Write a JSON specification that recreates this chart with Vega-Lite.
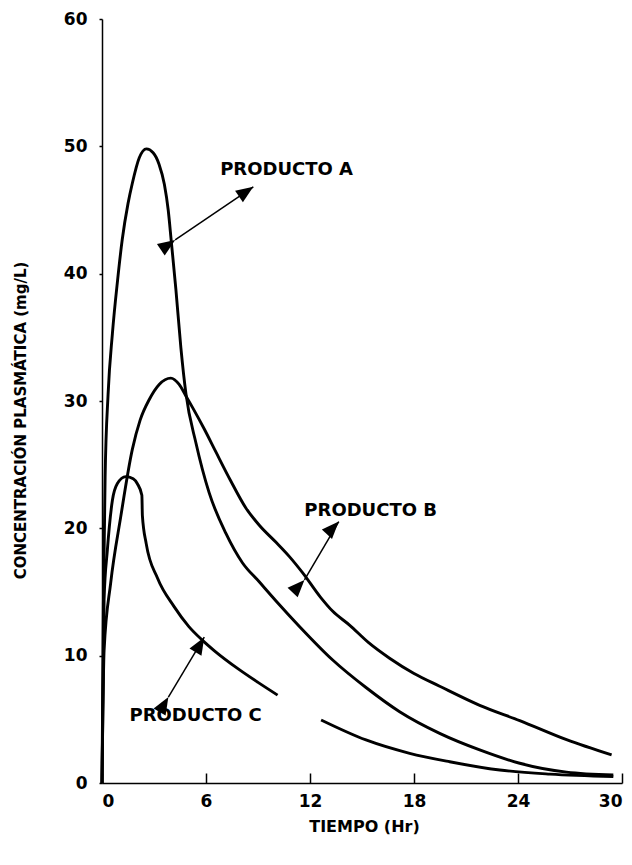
{
  "$schema": "https://vega.github.io/schema/vega-lite/v6.json",
  "width": 520,
  "height": 764,
  "autosize": {"type": "none"},
  "padding": {"left": 102, "top": 19, "right": 10, "bottom": 82},
  "background": "white",
  "config": {
    "view": {"stroke": null},
    "axis": {
      "grid": false,
      "domainColor": "black",
      "domainWidth": 1.5,
      "tickColor": "black",
      "tickWidth": 1.5,
      "labelColor": "black",
      "titleColor": "black",
      "labelFont": "DejaVu Sans",
      "labelFontWeight": "bold",
      "labelFontSize": 17,
      "titleFont": "DejaVu Sans",
      "titleFontWeight": "bold"
    }
  },
  "datasets": {
    "curvas": [
      {"producto": "A", "tramo": 1, "t": 0, "c": 0},
      {"producto": "A", "tramo": 1, "t": 0.08, "c": 14},
      {"producto": "A", "tramo": 1, "t": 0.18, "c": 24},
      {"producto": "A", "tramo": 1, "t": 0.35, "c": 30.5},
      {"producto": "A", "tramo": 1, "t": 0.6, "c": 35.3},
      {"producto": "A", "tramo": 1, "t": 0.9, "c": 39.5},
      {"producto": "A", "tramo": 1, "t": 1.17, "c": 42.7},
      {"producto": "A", "tramo": 1, "t": 1.5, "c": 45.5},
      {"producto": "A", "tramo": 1, "t": 1.75, "c": 47.1},
      {"producto": "A", "tramo": 1, "t": 2.15, "c": 49.1},
      {"producto": "A", "tramo": 1, "t": 2.56, "c": 49.8},
      {"producto": "A", "tramo": 1, "t": 2.95, "c": 49.5},
      {"producto": "A", "tramo": 1, "t": 3.29, "c": 48.6},
      {"producto": "A", "tramo": 1, "t": 3.6, "c": 47.0},
      {"producto": "A", "tramo": 1, "t": 3.82, "c": 45.0},
      {"producto": "A", "tramo": 1, "t": 4.0, "c": 42.5},
      {"producto": "A", "tramo": 1, "t": 4.26, "c": 38.8},
      {"producto": "A", "tramo": 1, "t": 4.55, "c": 34.2},
      {"producto": "A", "tramo": 1, "t": 4.84, "c": 30.6},
      {"producto": "A", "tramo": 1, "t": 5.42, "c": 26.7},
      {"producto": "A", "tramo": 1, "t": 6.18, "c": 22.8},
      {"producto": "A", "tramo": 1, "t": 7.15, "c": 19.6},
      {"producto": "A", "tramo": 1, "t": 8.1, "c": 17.3},
      {"producto": "A", "tramo": 1, "t": 9.07, "c": 15.8},
      {"producto": "A", "tramo": 1, "t": 10.04, "c": 14.3},
      {"producto": "A", "tramo": 1, "t": 11.39, "c": 12.3},
      {"producto": "A", "tramo": 1, "t": 13.31, "c": 9.66},
      {"producto": "A", "tramo": 1, "t": 15.23, "c": 7.5},
      {"producto": "A", "tramo": 1, "t": 17.17, "c": 5.6},
      {"producto": "A", "tramo": 1, "t": 19.48, "c": 3.9},
      {"producto": "A", "tramo": 1, "t": 21.79, "c": 2.6},
      {"producto": "A", "tramo": 1, "t": 24.1, "c": 1.55},
      {"producto": "A", "tramo": 1, "t": 26.8, "c": 0.85},
      {"producto": "A", "tramo": 1, "t": 29.5, "c": 0.63},

      {"producto": "B", "tramo": 1, "t": 0, "c": 0},
      {"producto": "B", "tramo": 1, "t": 0.12, "c": 10.4},
      {"producto": "B", "tramo": 1, "t": 0.5, "c": 15.7},
      {"producto": "B", "tramo": 1, "t": 1.08, "c": 20.9},
      {"producto": "B", "tramo": 1, "t": 1.75, "c": 26.2},
      {"producto": "B", "tramo": 1, "t": 2.2, "c": 28.5},
      {"producto": "B", "tramo": 1, "t": 2.72, "c": 30.1},
      {"producto": "B", "tramo": 1, "t": 3.3, "c": 31.3},
      {"producto": "B", "tramo": 1, "t": 3.97, "c": 31.8},
      {"producto": "B", "tramo": 1, "t": 4.45, "c": 31.3},
      {"producto": "B", "tramo": 1, "t": 4.84, "c": 30.4},
      {"producto": "B", "tramo": 1, "t": 5.22, "c": 29.5},
      {"producto": "B", "tramo": 1, "t": 5.9, "c": 27.8},
      {"producto": "B", "tramo": 1, "t": 6.57, "c": 26.0},
      {"producto": "B", "tramo": 1, "t": 7.4, "c": 23.8},
      {"producto": "B", "tramo": 1, "t": 8.3, "c": 21.6},
      {"producto": "B", "tramo": 1, "t": 9.1, "c": 20.2},
      {"producto": "B", "tramo": 1, "t": 10.04, "c": 18.9},
      {"producto": "B", "tramo": 1, "t": 10.8, "c": 17.8},
      {"producto": "B", "tramo": 1, "t": 11.58, "c": 16.5},
      {"producto": "B", "tramo": 1, "t": 12.6, "c": 14.6},
      {"producto": "B", "tramo": 1, "t": 13.3, "c": 13.5},
      {"producto": "B", "tramo": 1, "t": 14.28, "c": 12.4},
      {"producto": "B", "tramo": 1, "t": 15.4, "c": 11.0},
      {"producto": "B", "tramo": 1, "t": 16.59, "c": 9.8},
      {"producto": "B", "tramo": 1, "t": 18.0, "c": 8.6},
      {"producto": "B", "tramo": 1, "t": 19.48, "c": 7.6},
      {"producto": "B", "tramo": 1, "t": 21.79, "c": 6.1},
      {"producto": "B", "tramo": 1, "t": 24.1, "c": 4.9},
      {"producto": "B", "tramo": 1, "t": 26.8, "c": 3.4},
      {"producto": "B", "tramo": 1, "t": 29.4, "c": 2.2},

      {"producto": "C", "tramo": 1, "t": 0, "c": 0},
      {"producto": "C", "tramo": 1, "t": 0.12, "c": 14.4},
      {"producto": "C", "tramo": 1, "t": 0.31, "c": 18.3},
      {"producto": "C", "tramo": 1, "t": 0.6, "c": 22.2},
      {"producto": "C", "tramo": 1, "t": 0.88, "c": 23.5},
      {"producto": "C", "tramo": 1, "t": 1.37, "c": 24.06},
      {"producto": "C", "tramo": 1, "t": 1.8, "c": 23.9},
      {"producto": "C", "tramo": 1, "t": 2.04, "c": 23.5},
      {"producto": "C", "tramo": 1, "t": 2.3, "c": 22.6},
      {"producto": "C", "tramo": 1, "t": 2.33, "c": 21.0},
      {"producto": "C", "tramo": 1, "t": 2.55, "c": 18.8},
      {"producto": "C", "tramo": 1, "t": 3.2, "c": 16.1},
      {"producto": "C", "tramo": 1, "t": 4.16, "c": 13.85},
      {"producto": "C", "tramo": 1, "t": 5.0, "c": 12.3},
      {"producto": "C", "tramo": 1, "t": 5.8, "c": 11.2},
      {"producto": "C", "tramo": 1, "t": 6.47, "c": 10.4},
      {"producto": "C", "tramo": 1, "t": 7.92, "c": 8.9},
      {"producto": "C", "tramo": 1, "t": 9.0, "c": 7.9},
      {"producto": "C", "tramo": 1, "t": 10.13, "c": 6.9},
      {"producto": "C", "tramo": 2, "t": 12.64, "c": 4.95},
      {"producto": "C", "tramo": 2, "t": 15.23, "c": 3.38},
      {"producto": "C", "tramo": 2, "t": 17.75, "c": 2.33},
      {"producto": "C", "tramo": 2, "t": 20.06, "c": 1.67},
      {"producto": "C", "tramo": 2, "t": 22.95, "c": 1.02},
      {"producto": "C", "tramo": 2, "t": 25.84, "c": 0.7},
      {"producto": "C", "tramo": 2, "t": 29.5, "c": 0.5}
    ],
    "flechas": [
      {"producto": "A", "t1": 4.22, "c1": 42.65, "t2": 8.73, "c2": 46.82},
      {"producto": "B", "t1": 11.68, "c1": 15.95, "t2": 13.66, "c2": 20.53},
      {"producto": "C", "t1": 3.83, "c1": 6.75, "t2": 5.9, "c2": 11.45}
    ],
    "etiquetas": [
      {"texto": "PRODUCTO A", "t": 10.65, "c": 48.15},
      {"texto": "PRODUCTO B", "t": 15.5, "c": 21.37},
      {"texto": "PRODUCTO C", "t": 5.4, "c": 5.3}
    ]
  },
  "layer": [
    {
      "data": {"name": "curvas"},
      "mark": {"type": "line", "interpolate": "monotone", "color": "black", "strokeWidth": 2.9},
      "encoding": {
        "x": {
          "field": "t", "type": "quantitative",
          "scale": {"domain": [0, 30], "nice": false},
          "axis": {
            "values": [0, 6, 12, 18, 24, 30],
            "tickSize": -10,
            "labelPadding": 20,
            "title": "TIEMPO (Hr)",
            "titleFontSize": 16,
            "titleX": 262,
            "titleY": 43,
            "titleBaseline": "middle"
          }
        },
        "y": {
          "field": "c", "type": "quantitative",
          "scale": {"domain": [0, 60], "nice": false},
          "axis": {
            "values": [0, 10, 20, 30, 40, 50, 60],
            "tickSize": 3,
            "labelPadding": 12,
            "title": "CONCENTRACIÓN PLASMÁTICA (mg/L)",
            "titleFontSize": 15,
            "titleX": -82,
            "titleY": 401,
            "titleAlign": "center",
            "titleBaseline": "middle"
          }
        },
        "detail": [{"field": "producto"}, {"field": "tramo"}]
      }
    },
    {
      "data": {"name": "flechas"},
      "mark": {"type": "rule", "color": "black", "strokeWidth": 1.5},
      "encoding": {
        "x": {"field": "t1", "type": "quantitative"},
        "y": {"field": "c1", "type": "quantitative"},
        "x2": {"field": "t2"},
        "y2": {"field": "c2"}
      }
    },
    {
      "data": {"name": "flechas"},
      "mark": {"type": "point", "shape": "M0,0L0.4,1L-0.4,1Z", "filled": true, "color": "black", "size": 1200, "opacity": 1},
      "encoding": {
        "x": {"field": "t2", "type": "quantitative"},
        "y": {"field": "c2", "type": "quantitative"},
        "angle": {"field": "producto", "type": "nominal", "scale": {"domain": ["A", "B", "C"], "range": [55.8, 30.5, 30.3]}, "legend": null}
      }
    },
    {
      "data": {"name": "flechas"},
      "mark": {"type": "point", "shape": "M0,0L0.4,1L-0.4,1Z", "filled": true, "color": "black", "size": 1200, "opacity": 1},
      "encoding": {
        "x": {"field": "t1", "type": "quantitative"},
        "y": {"field": "c1", "type": "quantitative"},
        "angle": {"field": "producto", "type": "nominal", "scale": {"domain": ["A", "B", "C"], "range": [235.8, 210.5, 210.3]}, "legend": null}
      }
    },
    {
      "data": {"name": "etiquetas"},
      "mark": {"type": "text", "font": "DejaVu Sans", "fontWeight": "bold", "fontSize": 18, "color": "black", "align": "center", "baseline": "middle"},
      "encoding": {
        "x": {"field": "t", "type": "quantitative"},
        "y": {"field": "c", "type": "quantitative"},
        "text": {"field": "texto"}
      }
    }
  ]
}
